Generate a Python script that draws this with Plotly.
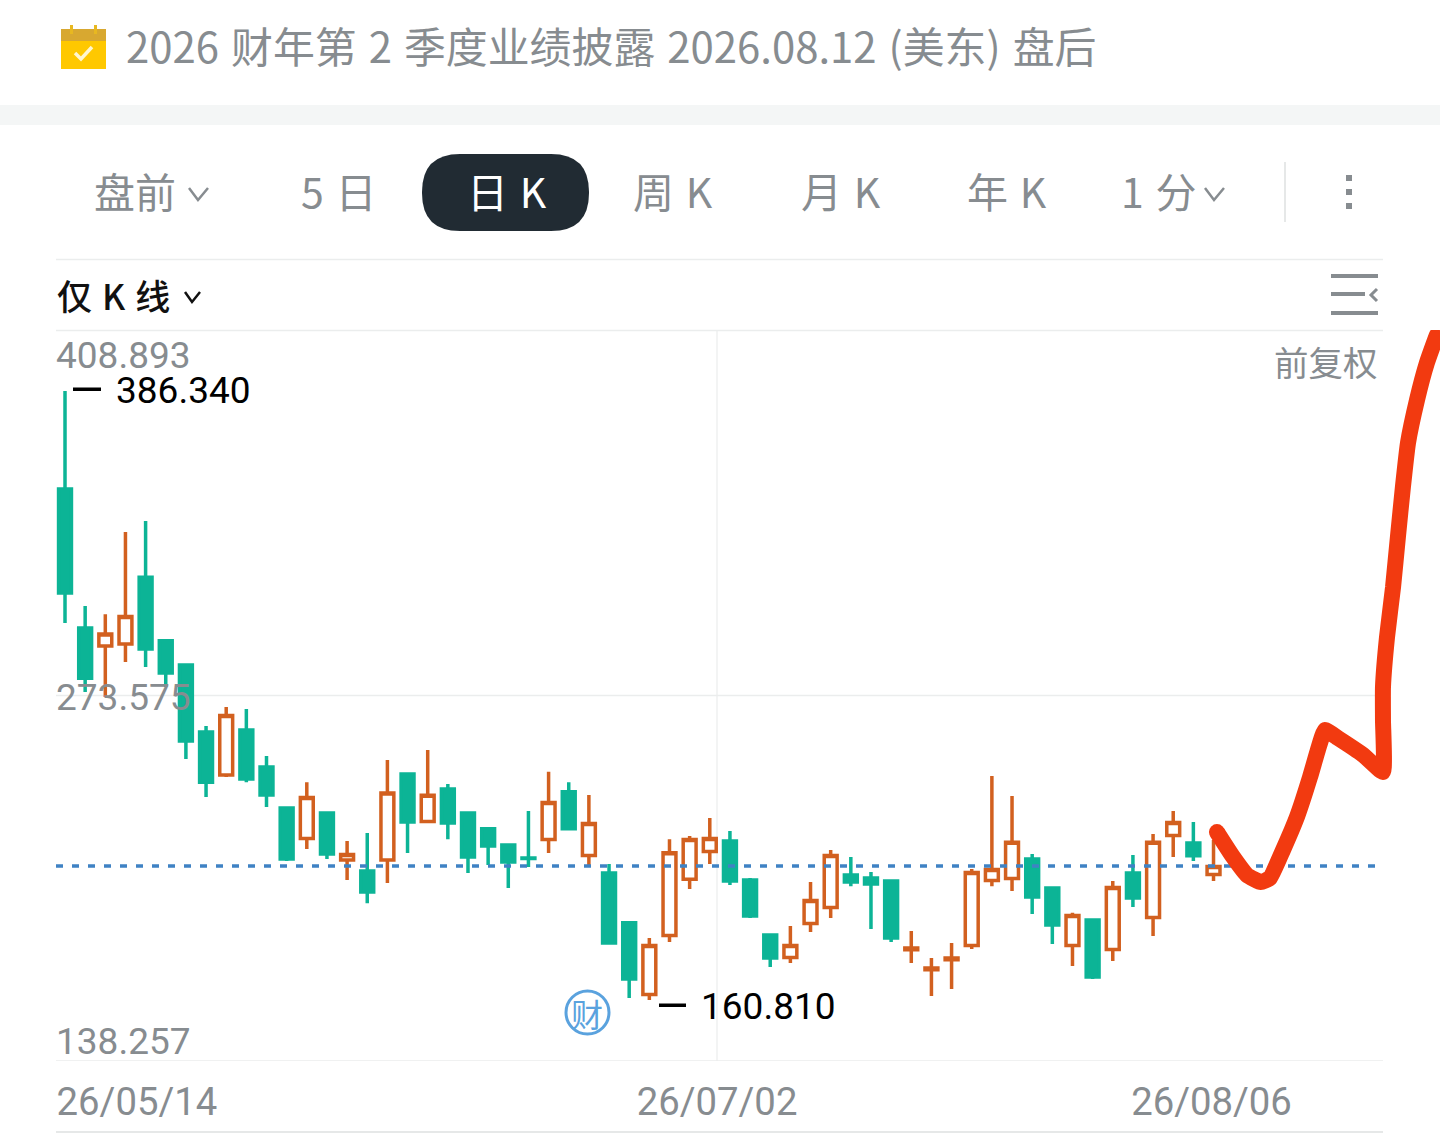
import plotly.graph_objects as go

# ---------- data (prices) ----------
opens = [350.0, 298.6, 291.9, 292.6, 317.4, 293.8, 284.9, 260.1, 244.1, 260.8, 247.1, 231.9, 220.6, 230.1, 212.7,
         208.6, 212.7, 244.5, 226.9, 239.0, 230.1, 224.2, 218.2, 213.4, 220.3, 237.9, 214.3, 207.9, 189.4, 162.9,
         184.7, 205.5, 215.8, 219.7, 205.3, 184.9, 176.6, 189.2, 195.1, 207.1, 206.0, 204.9, 179.4, 172.0, 175.7,
         181.0, 205.1, 205.8, 213.0, 202.3, 181.0, 190.5, 179.5, 207.9, 191.4, 221.7, 219.0, 207.3]
highs = [386.34, 306.7, 303.7, 334.1, 338.2, 293.8, 284.9, 262.3, 269.3, 268.6, 251.2, 232.3, 241.5, 230.1, 219.7,
         222.7, 249.7, 244.5, 253.4, 240.8, 230.1, 224.5, 218.2, 230.8, 245.3, 241.5, 236.7, 211.2, 189.4, 183.8,
         220.4, 221.6, 228.2, 223.4, 206.0, 184.9, 188.2, 204.5, 216.4, 213.8, 208.2, 204.9, 186.4, 176.4, 181.9,
         209.3, 243.8, 236.4, 214.9, 202.7, 193.1, 190.5, 204.9, 214.5, 222.3, 230.8, 226.7, 220.1]
lows = [300.4, 274.9, 273.0, 286.0, 284.1, 276.7, 250.1, 236.0, 243.4, 241.5, 232.3, 212.3, 216.7, 213.0, 205.3,
        196.7, 204.2, 215.3, 226.4, 220.4, 207.9, 210.8, 202.3, 210.1, 215.3, 224.0, 210.1, 181.7, 161.6, 160.81,
        182.3, 201.9, 211.2, 203.4, 191.2, 173.1, 174.5, 186.0, 191.2, 203.0, 187.1, 182.3, 174.5, 162.3, 164.9,
        179.7, 203.0, 201.2, 192.7, 181.6, 173.4, 168.6, 175.3, 195.3, 184.5, 213.8, 212.3, 204.9]
closes = [311.5, 280.0, 296.3, 302.8, 290.8, 281.9, 256.7, 241.5, 266.2, 242.7, 236.7, 213.0, 235.8, 214.9, 214.7,
          200.8, 237.5, 226.7, 236.6, 226.4, 213.8, 217.9, 211.9, 213.2, 234.0, 224.2, 226.2, 181.9, 168.6, 181.0,
          215.4, 220.3, 220.6, 204.9, 191.9, 176.4, 181.0, 197.7, 214.3, 204.5, 203.8, 183.8, 180.1, 172.7, 176.4,
          208.0, 209.2, 219.2, 199.0, 188.6, 192.1, 169.4, 202.5, 198.6, 219.2, 226.6, 214.2, 210.3]
candle_index = list(range(len(opens)))

y_ticks = [408.893, 273.575, 138.257]
y_tick_labels = ["408.893", "273.575", "138.257"]
x_tick_vals = [3.57, 32.36, 56.9]
x_tick_labels = ["26/05/14", "26/07/02", "26/08/06"]
high_label = "386.340"
low_label = "160.810"
last_close_level = 210.45

pen_x = [57.17, 57.97, 58.66, 59.35, 59.80, 60.45, 61.14, 61.79, 62.18, 62.53, 63.18, 64.42, 65.41, 65.41, 65.41,
         65.61, 65.91, 66.15, 66.40, 66.65, 67.10, 67.59, 68.09, 68.24]
pen_y = [223.0, 213.8, 207.1, 204.5, 206.0, 216.4, 228.6, 243.4, 253.4, 260.8, 257.8, 251.6, 245.3, 264.5, 276.7,
         295.2, 313.7, 332.2, 350.8, 367.0, 383.0, 396.7, 407.0, 408.8]

title_text = "2026\u200a 财年第\u200a 2\u200a 季度业绩披露\u200a 2026.08.12\u200a (美东)\u200a 盘后"

# ---------- layout helpers ----------
W, H = 1440, 1144
L, R, T, B = 56, 1440, 330, 1061
RE = 1383  # right edge of the separators
def fx(px): return (px - L) / (R - L)
def fy(py): return 1 - (py - T) / (B - T)

GREY = "#878C90"
TEAL = "#0CB496"
ORANGE = "#D2601F"
CJK = "Noto Sans CJK SC"
NUM = "Roboto"
LINE = "#EBEDED"
shapes, annots = [], []

def rect(x0, y0, x1, y1, color, layer="below"):
    shapes.append(dict(type="rect", xref="paper", yref="paper", x0=fx(x0), x1=fx(x1), y0=fy(y0), y1=fy(y1),
                       fillcolor=color, line=dict(width=0), layer=layer))
def hline(x0, x1, y, color=LINE, w=1.5):
    shapes.append(dict(type="line", xref="paper", yref="paper", x0=fx(x0), x1=fx(x1), y0=fy(y), y1=fy(y),
                       line=dict(color=color, width=w), layer="below"))
def poly(points, color, w):
    d = "M " + " L ".join(f"{fx(a):.5f},{fy(b):.5f}" for a, b in points)
    shapes.append(dict(type="path", xref="paper", yref="paper", path=d, line=dict(color=color, width=w), layer="above"))
def text(px, py, s, size, color=GREY, anchor="left", family=CJK, weight=None):
    font = dict(size=size, color=color, family=family)
    if weight:
        font["weight"] = weight
    annots.append(dict(xref="paper", yref="paper", x=fx(px), y=fy(py), text=s, showarrow=False, xanchor=anchor,
                       yanchor="middle", borderpad=0, font=font))

# band and separators
rect(0, 105, W, 125, "#F4F6F6")
hline(L, RE, 259.5)
hline(L, RE, 330.5)
hline(L, RE, 1132, "#E6E8E8", 2)
for v in y_ticks:
    shapes.append(dict(type="line", xref="paper", yref="y", x0=0, x1=fx(RE), y0=v, y1=v,
                       line=dict(color=LINE, width=1.3), layer="below"))
shapes.append(dict(type="line", xref="paper", yref="paper", x0=fx(717), x1=fx(717), y0=fy(330), y1=fy(1061),
                   line=dict(color=LINE, width=1.2), layer="below"))

# calendar icon
rect(61, 29, 106, 69, "#FFC800", "above")
rect(61, 29, 106, 41, "#D8A830", "above")
rect(70, 25, 73, 34, "#E8B820", "above")
rect(94, 25, 97, 34, "#E8B820", "above")
poly([(75, 53), (81, 59), (92, 47)], "#FFF6D0", 3.5)
text(125, 44, title_text, 41.9)

# period tabs
a, b, c, d, rad = 422, 154, 589, 231, 38
pill = (f"M {fx(a+rad)},{fy(b)} L {fx(c-rad)},{fy(b)} Q {fx(c)},{fy(b)} {fx(c)},{fy(b+rad)} "
        f"L {fx(c)},{fy(d-rad)} Q {fx(c)},{fy(d)} {fx(c-rad)},{fy(d)} L {fx(a+rad)},{fy(d)} "
        f"Q {fx(a)},{fy(d)} {fx(a)},{fy(d-rad)} L {fx(a)},{fy(b+rad)} Q {fx(a)},{fy(b)} {fx(a+rad)},{fy(b)} Z")
shapes.append(dict(type="path", xref="paper", yref="paper", path=pill, fillcolor="#212B33", line=dict(width=0), layer="below"))
text(93, 189.5, "盘前", 41)
text(300, 189.5, "5\u200a 日", 41)
text(466, 189.5, "日\u200a K", 41, "#FFFFFF")
text(632, 189.5, "周\u200a K", 41)
text(800, 189.5, "月\u200a K", 41)
text(966, 189.5, "年\u200a K", 41)
text(1120, 189.5, "1\u200a 分", 41)
poly([(189, 188), (198, 200), (208, 188)], GREY, 2.5)
poly([(1205, 188), (1214, 200), (1224, 188)], GREY, 2.5)
rect(1284, 162, 1286, 222, "#E6E8E8")
for yy in (178, 192, 206):
    rect(1346, yy - 3, 1352, yy + 3, GREY, "above")

# indicator row
text(56, 294, "仅\u200a K\u200a 线", 35, "#111111", weight=500)
poly([(185, 292), (192, 302), (200, 292)], "#111111", 2.5)
rect(1331, 274, 1378, 278, GREY, "above")
rect(1331, 292, 1365, 296, GREY, "above")
rect(1331, 311, 1378, 315, GREY, "above")
poly([(1377, 289), (1371, 295), (1377, 301)], GREY, 3)
text(1379, 361, "前复权", 34.5, anchor="right")

# price labels
text(55, 355, y_tick_labels[0], 37, family=NUM)
text(55, 697, y_tick_labels[1], 37, family=NUM)
text(55, 1041, y_tick_labels[2], 37, family=NUM)
rect(73, 387.5, 101, 391, "#000000", "above")
text(115, 390, high_label, 37, "#000000", family=NUM)
rect(659, 1003.5, 686, 1007, "#000000", "above")
text(700, 1006, low_label, 37, "#000000", family=NUM)

# earnings marker
shapes.append(dict(type="circle", xref="paper", yref="paper", x0=fx(566), x1=fx(609), y0=fy(991), y1=fy(1034),
                   line=dict(color="#5AA2DE", width=3), fillcolor="rgba(255,255,255,0)", layer="above"))
text(587, 1013, "财", 32, "#5AA2DE", anchor="center")

# ---------- figure ----------
fig = go.Figure()
fig.add_trace(go.Candlestick(
    x=candle_index, open=opens, high=highs, low=lows, close=closes,
    increasing=dict(line=dict(color=ORANGE, width=3.5), fillcolor="#FFFFFF"),
    decreasing=dict(line=dict(color=TEAL, width=3.5), fillcolor=TEAL),
    whiskerwidth=0, hoverinfo="skip"))
fig.add_trace(go.Scatter(
    x=[-0.447, 65.41], y=[last_close_level, last_close_level], mode="lines",
    line=dict(color="#3F82C4", width=3.5, dash="7px,9px"), hoverinfo="skip"))
fig.add_trace(go.Scatter(
    x=pen_x, y=pen_y, mode="lines+markers",
    line=dict(color="#F23A10", width=16, shape="spline", smoothing=0.4),
    marker=dict(color="#F23A10", opacity=1, size=[16] + [0] * (len(pen_x) - 1), line=dict(width=0)),
    hoverinfo="skip"))

fig.update_layout(
    width=W, height=H, margin=dict(l=L, r=W - R, t=T, b=H - B),
    paper_bgcolor="#FFFFFF", plot_bgcolor="#FFFFFF", showlegend=False,
    boxgap=0.2, boxgroupgap=0.2, hovermode=False,
    shapes=shapes, annotations=annots,
    xaxis=dict(range=[-0.447, 68.24], rangeslider=dict(visible=False), showgrid=False, zeroline=False, automargin=False,
               tickmode="array", tickvals=x_tick_vals, ticktext=x_tick_labels,
               ticks="outside", ticklen=7, tickcolor="rgba(0,0,0,0)",
               tickfont=dict(size=38.3, color=GREY, family=NUM), showline=False),
    yaxis=dict(range=[138.257, 408.893], tickmode="array", tickvals=y_ticks, showticklabels=False, automargin=False,
               showgrid=False, zeroline=False, showline=False),
)
fig.write_html("out.html", config=dict(displayModeBar=False), post_script="document.body.style.margin='0';")
